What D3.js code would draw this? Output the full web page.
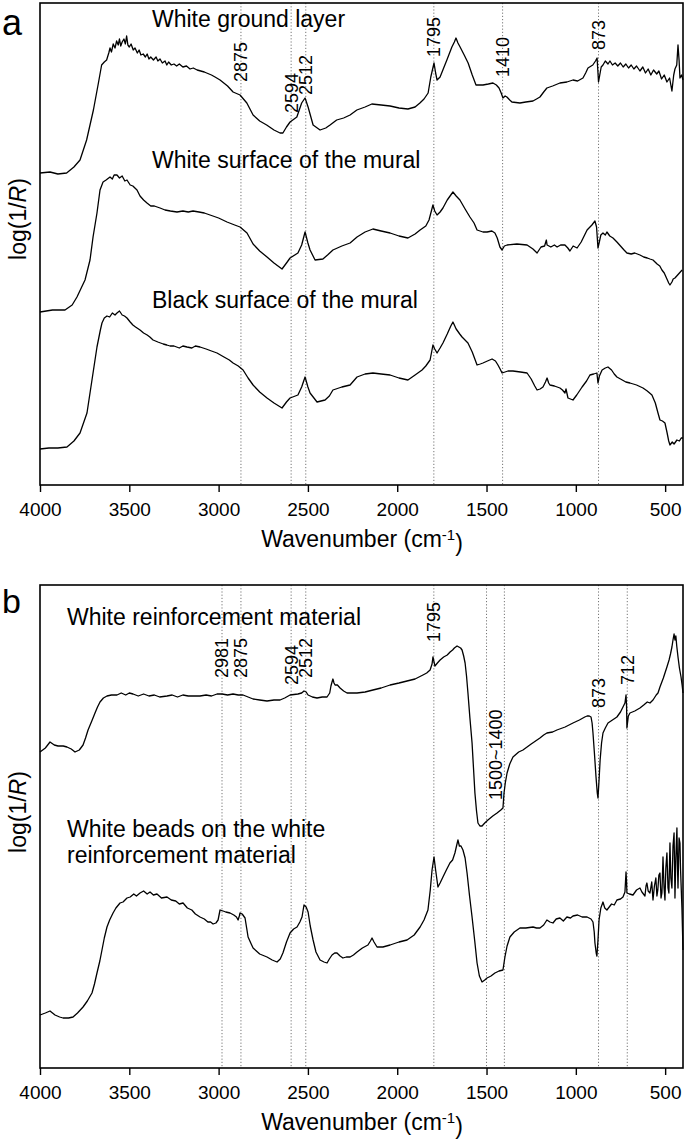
<!DOCTYPE html>
<html><head><meta charset="utf-8">
<script src="https://cdn.jsdelivr.net/npm/d3@7"></script>
<style>
body{margin:0;background:#fff}
svg{display:block}
text{font-family:"Liberation Sans",Arial,Helvetica,sans-serif;fill:#000}
</style>
</head><body>
<svg id="c" width="685" height="1147"></svg>
<script>
// ---------- DATA (wavenumber cm^-1, log(1/R) arbitrary units, stacked) ----------
const xTicks = [4000, 3500, 3000, 2500, 2000, 1500, 1000, 500];

const whiteGround = [
[4000,312],[3944,313],[3900,311],[3851,312],[3810,318],[3776,325],[3739,345],[3701,375],[3673,402],[3655,420],
[3640,423],[3627,425],[3615,432],[3608,437],[3600,433],[3590,441],[3580,437],[3571,444],[3562,440],[3555,446],
[3548,439],[3540,443],[3530,446],[3522,441],[3515,449],[3508,440],[3500,438],[3490,441],[3478,435],[3468,437],
[3455,432],[3445,435],[3435,430],[3422,431],[3410,428],[3400,431],[3390,426],[3380,428],[3365,425],[3350,428],
[3340,424],[3328,426],[3315,422],[3300,424],[3290,420],[3280,423],[3265,420],[3250,421],[3235,419],[3220,421],
[3200,418],[3180,419],[3160,416],[3142,417],[3120,415],[3100,414],[3080,413],[3067,412],[3040,410],[3020,408],
[2992,405],[2950,399],[2919,393],[2880,390],[2842,382],[2807,370],[2770,364],[2731,360],[2690,355],[2656,352],
[2640,352],[2620,358],[2600,363],[2562,368],[2535,382],[2516,387],[2499,378],[2471,360],[2432,355],[2400,357],
[2376,360],[2339,365],[2300,367],[2264,370],[2226,375],[2180,378],[2142,381],[2090,380],[2040,379],[1990,377],
[1940,376],[1900,378],[1873,382],[1850,386],[1827,392],[1812,408],[1794,422],[1785,412],[1777,405],[1760,408],
[1740,417],[1722,425],[1694,438],[1680,443],[1671,447],[1660,442],[1648,438],[1625,430],[1603,422],[1580,410],
[1559,400],[1540,400],[1520,400],[1490,401],[1464,402],[1445,400],[1430,397],[1418,392],[1408,387],[1396,389],
[1386,388],[1370,385],[1358,383],[1313,382],[1280,383],[1240,384],[1220,386],[1201,388],[1180,393],[1162,397],
[1130,399],[1089,402],[1050,403],[1016,405],[990,404],[960,407],[945,412],[932,417],[905,420],[890,424],
[881,427],[877,415],[873,403],[866,410],[858,418],[848,420],[835,424],[820,421],[809,424],[795,420],
[780,422],[765,419],[750,422],[735,418],[720,421],[705,417],[690,420],[675,416],[660,419],[641,414],
[625,418],[610,412],[595,416],[580,410],[565,415],[547,411],[535,414],[520,406],[505,410],[490,403],
[475,407],[462,394],[452,410],[445,416],[435,420],[428,440],[422,425],[417,407],[408,410],[400,405]
];

const whiteSurface = [
[4000,173],[3930,175],[3860,175],[3820,180],[3793,188],[3748,205],[3720,225],[3703,248],[3681,272],[3664,295],
[3647,303],[3630,305],[3608,308],[3595,306],[3585,310],[3569,310],[3555,307],[3540,309],[3525,304],[3513,305],
[3495,300],[3480,299],[3457,295],[3440,289],[3420,285],[3401,282],[3380,279],[3360,279],[3328,277],[3300,275],
[3270,274],[3233,273],[3200,274],[3170,273],[3143,274],[3110,273],[3080,272],[3048,270],[3000,267],[2953,263],
[2910,260],[2880,258],[2841,252],[2807,241],[2770,234],[2729,228],[2690,222],[2645,216],[2620,222],[2600,227],
[2556,232],[2535,240],[2516,253],[2500,242],[2488,235],[2460,225],[2416,226],[2390,230],[2360,235],[2310,239],
[2264,242],[2225,248],[2180,253],[2136,256],[2090,254],[2040,252],[1990,249],[1940,247],[1900,251],[1872,255],
[1840,259],[1822,265],[1800,280],[1790,274],[1777,270],[1760,273],[1744,277],[1720,285],[1700,290],[1688,293],
[1670,289],[1649,285],[1620,276],[1593,268],[1570,262],[1553,255],[1520,253],[1497,253],[1470,254],[1453,252],
[1440,247],[1425,238],[1413,235],[1400,239],[1385,240],[1330,241],[1273,240],[1240,236],[1217,232],[1195,238],
[1175,239],[1165,245],[1161,240],[1140,238],[1120,240],[1105,238],[1085,240],[1061,240],[1045,237],[1033,234],
[1015,239],[993,237],[970,243],[937,255],[910,260],[893,264],[884,258],[876,237],[866,245],[860,250],
[848,252],[835,250],[826,253],[810,249],[792,247],[770,243],[750,239],[730,235],[714,232],[690,231],
[670,232],[641,230],[620,228],[600,227],[585,226],[568,225],[545,221],[530,219],[518,215],[505,212],
[490,206],[480,202],[473,200],[462,203],[455,206],[445,207],[430,210],[420,212],[405,215]
];

const blackSurface = [
[4000,36],[3950,37],[3900,37],[3849,38],[3810,44],[3776,52],[3737,72],[3709,105],[3681,138],[3662,155],
[3653,162],[3640,167],[3625,169],[3610,168],[3595,172],[3580,170],[3569,172],[3555,174],[3540,170],[3527,169],
[3513,167],[3495,163],[3480,160],[3465,158],[3440,155],[3420,152],[3400,150],[3385,148],[3367,145],[3340,143],
[3310,141],[3290,140],[3272,139],[3250,139],[3220,137],[3200,139],[3177,138],[3150,137],[3130,139],[3104,138],
[3070,136],[3040,134],[3009,132],[2970,128],[2940,125],[2919,122],[2890,119],[2863,115],[2835,107],[2807,100],
[2770,93],[2729,87],[2690,82],[2645,77],[2620,83],[2600,87],[2556,90],[2535,98],[2516,108],[2500,98],
[2488,92],[2449,83],[2404,85],[2380,89],[2360,95],[2310,98],[2264,100],[2225,108],[2180,111],[2136,112],
[2090,111],[2040,110],[1990,107],[1940,105],[1900,110],[1861,115],[1840,119],[1816,125],[1800,140],[1790,136],
[1777,132],[1760,137],[1744,142],[1720,151],[1700,159],[1688,163],[1670,156],[1650,151],[1637,148],[1604,142],
[1580,133],[1553,120],[1535,121],[1520,122],[1495,124],[1469,126],[1450,124],[1436,120],[1424,116],[1413,112],
[1380,114],[1352,114],[1310,113],[1273,112],[1250,106],[1230,99],[1217,95],[1200,96],[1184,98],[1170,103],
[1161,107],[1152,102],[1145,100],[1120,99],[1089,97],[1075,95],[1061,92],[1055,96],[1044,87],[1030,86],
[1016,85],[995,90],[965,98],[940,104],[921,110],[900,111],[882,112],[876,102],[868,109],[853,115],
[835,117],[820,118],[800,115],[785,111],[770,108],[750,106],[720,103],[697,102],[660,100],[624,97],
[600,94],[574,90],[555,82],[540,72],[529,65],[515,64],[501,62],[490,53],[480,44],[473,40],
[460,43],[450,41],[434,45],[420,44],[410,47],[400,47]
];

const whiteReinforcement = [
[4000,316],[3970,320],[3944,326],[3920,323],[3899,322],[3870,322],[3849,321],[3825,319],[3804,316],[3780,318],
[3759,323],[3745,330],[3731,338],[3710,347],[3692,355],[3678,361],[3664,366],[3645,370],[3625,372],[3600,373],
[3569,373],[3545,375],[3520,373],[3500,375],[3479,374],[3450,372],[3420,374],[3390,372],[3360,373],[3330,371],
[3289,372],[3260,373],[3230,371],[3200,373],[3170,372],[3140,372],[3104,372],[3070,373],[3040,372],[3009,374],
[2980,374],[2950,373],[2919,374],[2890,373],[2863,373],[2835,371],[2807,369],[2770,368],[2729,367],[2690,368],
[2656,368],[2630,370],[2600,373],[2556,374],[2535,375],[2522,377],[2510,376],[2499,373],[2475,371],[2449,370],
[2420,371],[2393,371],[2378,375],[2371,382],[2365,386],[2360,389],[2354,385],[2348,383],[2335,383],[2320,380],
[2300,377],[2281,375],[2250,375],[2225,375],[2180,376],[2136,378],[2090,380],[2040,383],[1990,385],[1945,387],
[1900,389],[1856,393],[1835,395],[1816,398],[1805,404],[1800,411],[1795,407],[1789,402],[1775,405],[1760,408],
[1740,411],[1720,413],[1704,416],[1690,418],[1680,420],[1665,422],[1655,421],[1645,420],[1637,418],[1628,412],
[1620,405],[1612,392],[1604,375],[1593,350],[1581,325],[1573,300],[1565,275],[1556,257],[1548,245],[1537,242],
[1525,242],[1510,245],[1492,248],[1465,252],[1441,255],[1420,258],[1408,260],[1402,275],[1395,285],[1385,295],
[1370,304],[1352,311],[1320,316],[1296,318],[1250,324],[1201,330],[1180,333],[1162,335],[1130,336],[1106,338],
[1060,341],[1016,345],[980,348],[950,351],[937,352],[925,352],[915,351],[909,345],[904,335],[896,315],
[887,291],[880,275],[876,270],[870,288],[864,308],[856,325],[848,335],[835,340],[820,345],[795,348],
[770,351],[750,356],[736,361],[725,365],[719,373],[716,362],[714,340],[706,352],[697,355],[670,357],
[641,360],[620,363],[600,366],[585,365],[568,368],[550,373],[540,375],[529,381],[510,390],[490,401],
[478,408],[470,414],[462,421],[456,428],[450,434],[445,428],[440,432],[435,422],[428,411],[420,400],
[411,391],[405,383],[400,375]
];

const whiteBeads = [
[4000,53],[3970,55],[3944,57],[3930,55],[3916,53],[3890,51],[3871,50],[3840,50],[3815,51],[3790,55],
[3759,61],[3735,67],[3709,75],[3695,84],[3681,95],[3665,107],[3653,118],[3640,130],[3625,141],[3610,148],
[3591,155],[3575,160],[3552,165],[3535,166],[3513,170],[3495,171],[3475,174],[3460,172],[3440,175],[3420,177],
[3400,174],[3384,176],[3365,173],[3345,174],[3320,170],[3289,171],[3265,168],[3240,167],[3220,164],[3199,165],
[3175,160],[3150,158],[3130,154],[3104,151],[3080,149],[3060,146],[3045,146],[3031,144],[3015,145],[3003,148],
[2992,158],[2975,157],[2960,156],[2936,155],[2915,153],[2900,151],[2891,148],[2884,152],[2880,155],[2868,154],
[2852,150],[2843,140],[2835,131],[2820,125],[2807,120],[2770,114],[2729,111],[2700,108],[2673,106],[2655,109],
[2640,115],[2620,126],[2600,135],[2580,139],[2561,141],[2545,146],[2533,151],[2522,163],[2510,161],[2499,156],
[2487,142],[2471,128],[2455,116],[2432,108],[2410,106],[2393,105],[2380,109],[2365,113],[2350,115],[2337,115],
[2320,112],[2304,110],[2285,111],[2264,111],[2245,113],[2225,116],[2195,120],[2164,123],[2150,127],[2141,130],
[2130,126],[2113,121],[2080,121],[2040,123],[1990,126],[1945,128],[1905,133],[1872,141],[1850,148],[1828,158],
[1815,178],[1805,198],[1794,211],[1785,198],[1772,181],[1760,185],[1744,191],[1725,198],[1705,205],[1690,208],
[1677,215],[1668,222],[1660,228],[1652,222],[1643,222],[1632,218],[1620,210],[1609,195],[1595,172],[1581,151],
[1566,127],[1553,105],[1540,92],[1525,86],[1510,88],[1497,90],[1475,92],[1453,95],[1430,97],[1408,98],
[1397,111],[1385,122],[1369,131],[1345,136],[1313,140],[1280,140],[1240,141],[1220,140],[1201,140],[1180,143],
[1162,148],[1145,146],[1128,145],[1110,149],[1089,150],[1070,147],[1050,151],[1030,150],[1016,152],[990,153],
[965,151],[937,151],[915,149],[904,146],[897,136],[893,125],[886,115],[882,112],[876,128],[870,148],
[860,160],[848,166],[838,160],[826,158],[800,164],[785,163],[770,168],[750,169],[736,171],[725,176],
[719,196],[716,186],[714,175],[700,174],[680,173],[660,178],[641,180],[630,176],[613,172],[607,182],
[602,185],[595,177],[585,175],[575,186],[568,168],[560,182],[552,190],[546,172],[541,178],[535,193],
[529,195],[523,170],[518,175],[512,211],[506,180],[501,168],[496,200],[490,215],[484,180],[479,175],
[473,225],[468,190],[462,180],[456,222],[450,235],[446,185],[445,170],[440,210],[434,240],[430,195],
[428,180],[422,230],[417,225],[414,200],[411,185],[406,160],[400,118]
];

const peaksA = [
  {label:"2875", wn:2875}, {label:"2594", wn:2594}, {label:"2512", wn:2512},
  {label:"1795", wn:1795}, {label:"1410", wn:1410}, {label:"873", wn:873}
];
const linesB = [2981, 2875, 2594, 2512, 1795, 1500, 1400, 873, 712];
const peaksB = [
  {label:"2981", wn:2981}, {label:"2875", wn:2875}, {label:"2594", wn:2594}, {label:"2512", wn:2512},
  {label:"1795", wn:1795}, {label:"1500~1400", wn:1450}, {label:"873", wn:873}, {label:"712", wn:712}
];

// ---------- LAYOUT ----------
const W = 685;
const L = 40, R = 683;
const panels = {
  a: {top:3, bottom:485, ymax:482},
  b: {top:585, bottom:1068, ymax:483}
};
const peakLabelBottomA = [82, 113, 95, 57, 77, 50];
const peakLabelBottomB = [678, 678, 685, 678, 642, 800, 708, 685];

const svg = d3.select("#c");
const x = d3.scaleLinear().domain([4000, 400]).range([L, R]);

function drawPanel(p, seriesList, lines, peaks, labelBottoms, texts, letter, letterY, letterSize, ylabelY) {
  const y = d3.scaleLinear().domain([0, p.ymax]).range([p.bottom, p.top]);
  const g = svg.append("g");
  // dotted reference lines
  g.selectAll("line.ref").data(lines).join("line")
    .attr("x1", d => x(d)).attr("x2", d => x(d))
    .attr("y1", p.top).attr("y2", p.bottom)
    .attr("stroke", "#666").attr("stroke-width", 0.9).attr("stroke-dasharray", "1.2,2");
  // curves
  const line = d3.line().x(d => x(d[0])).y(d => y(d[1]));
  seriesList.forEach(s => {
    g.append("path").datum(s).attr("d", line)
      .attr("fill", "none").attr("stroke", "#000").attr("stroke-width", 1.3)
      .attr("stroke-linejoin", "round");
  });
  // frame
  g.append("rect").attr("x", L).attr("y", p.top).attr("width", R - L).attr("height", p.bottom - p.top)
    .attr("fill", "none").attr("stroke", "#000").attr("stroke-width", 1.6);
  // axis
  const ax = g.append("g").attr("transform", `translate(0,${p.bottom})`)
    .call(d3.axisBottom(x).tickValues(xTicks).tickSize(7).tickPadding(11).tickFormat(d3.format("d")));
  ax.select(".domain").remove();
  ax.selectAll(".tick line").attr("stroke", "#000").attr("stroke-width", 1.4);
  ax.selectAll(".tick text").style("font-size", "19px").attr("fill", "#000")
    .style("font-family", '"Liberation Sans",Arial,sans-serif');
  // peak labels
  g.selectAll("text.pk").data(peaks).join("text")
    .attr("transform", (d, i) => `translate(${x(d.wn)},${labelBottoms[i]}) rotate(-90)`)
    .attr("dy", "0.36em").attr("text-anchor", "start")
    .style("font-size", "18px").text(d => d.label);
  // series labels
  texts.forEach(t => {
    g.append("text").attr("x", t.x).attr("y", t.y).style("font-size", "23px").text(t.s);
  });
  // panel letter
  g.append("text").attr("x", 2).attr("y", letterY).style("font-size", letterSize + "px").text(letter);
  // y label
  const yl = g.append("text").attr("transform", `translate(26,${ylabelY}) rotate(-90)`)
    .attr("text-anchor", "middle").style("font-size", "23px");
  yl.append("tspan").text("log(1/");
  yl.append("tspan").style("font-style", "italic").text("R");
  yl.append("tspan").text(")");
  // x label
  const xl = g.append("text").attr("x", 362).attr("y", p.bottom + 62)
    .attr("text-anchor", "middle").style("font-size", "23px");
  xl.append("tspan").text("Wavenumber (cm");
  xl.append("tspan").attr("dy", "-0.45em").style("font-size", "15px").text("-1");
  xl.append("tspan").attr("dy", "0.45em").text(")");
}

drawPanel(panels.a, [whiteGround, whiteSurface, blackSurface], peaksA.map(d => d.wn), peaksA, peakLabelBottomA,
  [{x:152, y:27, s:"White ground layer"}, {x:152, y:168, s:"White surface of the mural"}, {x:152, y:308, s:"Black surface of the mural"}],
  "a", 35, 36, 219);

drawPanel(panels.b, [whiteReinforcement, whiteBeads], linesB, peaksB, peakLabelBottomB,
  [{x:67, y:625, s:"White reinforcement material"}, {x:67, y:837, s:"White beads on the white"}, {x:67, y:863, s:"reinforcement material"}],
  "b", 613, 34, 812);
</script>
</body></html>
